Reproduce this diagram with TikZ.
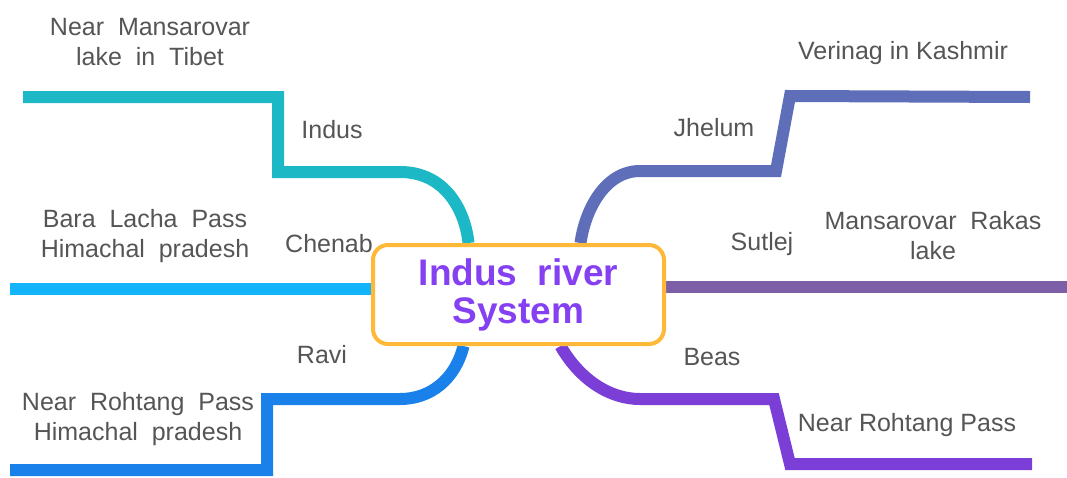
\documentclass[tikz,border=0pt]{standalone}
\usepackage{fontspec}
\setmainfont{Liberation Sans}
\pgfdeclarelayer{bg}
\pgfsetlayers{bg,main}
\definecolor{cIndus}{HTML}{1DB8C6}
\definecolor{cJhelum}{HTML}{5E6EB8}
\definecolor{cChenab}{HTML}{13B5FA}
\definecolor{cRavi}{HTML}{1A80EA}
\definecolor{cSutlej}{HTML}{7D5FA8}
\definecolor{cBeas}{HTML}{7B3FD8}
\definecolor{cBox}{HTML}{FFB838}
\definecolor{cTitle}{HTML}{8540F2}
\definecolor{cText}{HTML}{555555}
\tikzset{
  river/.style={line width=12pt, line join=miter},
  lbl/.style={inner sep=0pt, align=center, text=cText, font=\fontsize{25}{30}\selectfont},
  hub/.style={draw=cBox, line width=4pt, rounded corners=15pt, fill=white,
    minimum width=291pt, minimum height=99pt, align=center, text=cTitle,
    font=\bfseries\fontsize{37}{38}\selectfont}
}
\begin{document}
\begin{tikzpicture}[x=1pt,y=-1pt]
\useasboundingbox (0,0) rectangle (1067,477);
\node[hub] (center) at (518.5,294.5) {Indus\ \ river\\System};

% labels
\node[lbl] (indusSrc) at (150,42) {Near\ \ Mansarovar\\lake\ \ in\ \ Tibet};
\node[lbl] (indusName) at (332,130) {Indus};
\node[lbl] (jhelumSrc) at (903,53) {Verinag in Kashmir};
\node[lbl] (jhelumName) at (714,128) {Jhelum};
\node[lbl] (chenabSrc) at (145,236) {Bara\ \ Lacha\ \ Pass\\Himachal\ \ pradesh};
\node[lbl] (chenabName) at (329,244) {Chenab};
\node[lbl] (sutlejSrc) at (933,236) {Mansarovar\ \ Rakas\\lake};
\node[lbl] (sutlejName) at (762,244) {Sutlej};
\node[lbl] (raviName) at (322,355) {Ravi};
\node[lbl] (raviSrc) at (138,419) {Near\ \ Rohtang\ \ Pass\\Himachal\ \ pradesh};
\node[lbl] (beasName) at (712,357) {Beas};
\node[lbl] (beasSrc) at (907,425) {Near Rohtang Pass};

% free ends
\coordinate (indusEnd) at (23,97);
\coordinate (jhelumEnd) at (1030,97);
\coordinate (chenabEnd) at (10,289);
\coordinate (sutlejEnd) at (1067,287);
\coordinate (raviEnd) at (10,470);
\coordinate (beasEnd) at (1032,464);

\begin{pgfonlayer}{bg}
\draw[river, cIndus] ([xshift=-50pt]center.north) .. controls (465,210) and (445,172) .. (400,172)
  -- (278,172) -- (278,97) -- (indusEnd);
\draw[river, cJhelum] ([xshift=62pt]center.north) .. controls (585,210) and (605,171) .. (640,171)
  -- (776,171) -- (790,96) -- (jhelumEnd);
\draw[river, cChenab] ([yshift=5.5pt]center.west) -- (chenabEnd);
\draw[river, cSutlej] ([yshift=7.5pt]center.east) -- (sutlejEnd);
\draw[river, cRavi] ([xshift=-55pt]center.south) .. controls (455,380) and (430,399) .. (400,399)
  -- (267,399) -- (267,470) -- (raviEnd);
\draw[river, cBeas] ([xshift=42pt]center.south) .. controls (580,380) and (610,399) .. (640,399)
  -- (774,399) -- (790,464) -- (beasEnd);
\end{pgfonlayer}
\end{tikzpicture}
\end{document}
